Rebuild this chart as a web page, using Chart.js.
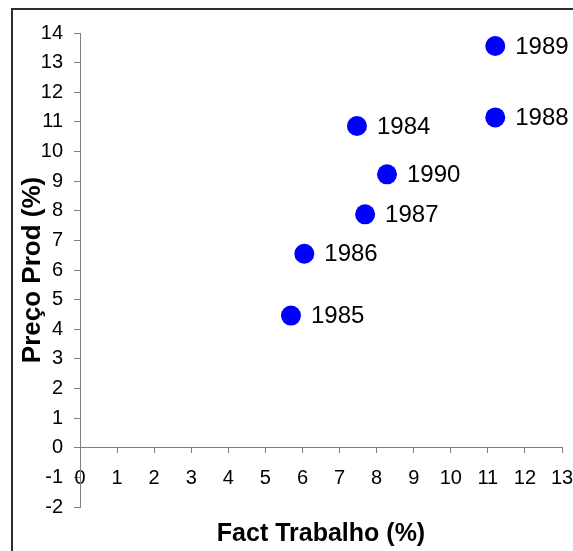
<!DOCTYPE html>
<html>
<head>
<meta charset="utf-8">
<script src="https://cdn.jsdelivr.net/npm/chart.js@4"></script>
<style>
  html, body { margin: 0; padding: 0; background: #fff; overflow: hidden; }
  #wrap { position: relative; width: 573px; height: 551px; }
  #frame { position: absolute; left: 11px; top: 8px; width: 700px; height: 700px;
           border-left: 2px solid #2e2e2e; border-top: 2px solid #2e2e2e; box-sizing: border-box; }
  canvas { position: absolute; left: 0; top: 0; }
</style>
</head>
<body>
<div id="wrap">
  <div id="frame"></div>
  <canvas id="scatterChart" width="573" height="551"></canvas>
</div>
<script>
// anos e valores
const years = ['1984', '1985', '1986', '1987', '1988', '1989', '1990'];
const factTrabalho = [7.47, 5.69, 6.05, 7.69, 11.2, 11.2, 8.28];
const precoProd = [10.86, 4.46, 6.55, 7.88, 11.15, 13.56, 9.23];

const xTitle = 'Fact Trabalho (%)';
const yTitle = 'Preço Prod (%)';

const points = years.map((y, i) => ({ x: factTrabalho[i], y: precoProd[i] }));

// labels beside each point
const yearLabels = {
  id: 'yearLabels',
  afterDatasetsDraw(chart) {
    const ctx = chart.ctx;
    const meta = chart.getDatasetMeta(0);
    ctx.save();
    ctx.font = '24px "Liberation Sans", Arial, sans-serif';
    ctx.fillStyle = '#000';
    ctx.textAlign = 'left';
    ctx.textBaseline = 'middle';
    meta.data.forEach((pt, i) => {
      ctx.fillText(years[i], pt.x + 20, pt.y + 1);
    });
    ctx.restore();
  }
};

const axisColor = '#7f7f7f';
const ctx = document.getElementById('scatterChart').getContext('2d');
new Chart(ctx, {
  type: 'scatter',
  data: {
    datasets: [{
      data: points,
      backgroundColor: '#0000ff',
      borderColor: '#0000ff',
      borderWidth: 0,
      pointRadius: 10,
      pointHoverRadius: 10
    }]
  },
  options: {
    responsive: false,
    animation: false,
    events: [],
    layout: { padding: { top: 33, left: 0, right: 11, bottom: 0 } },
    plugins: {
      legend: { display: false },
      tooltip: { enabled: false },
      title: {
        display: true,
        text: xTitle,
        position: 'bottom',
        fullSize: false,
        color: '#000',
        font: { family: '"Liberation Sans", Arial, sans-serif', size: 25, weight: 'bold', lineHeight: 1.2 },
        padding: { top: 12, bottom: 2 }
      }
    },
    scales: {
      x: {
        type: 'linear',
        position: { y: 0 },
        min: 0,
        max: 13,
        ticks: {
          stepSize: 1,
          padding: 14,
          color: '#000',
          font: { family: '"Liberation Sans", Arial, sans-serif', size: 20 }
        },
        grid: { drawOnChartArea: false, drawTicks: true, tickLength: 5, color: axisColor },
        border: { color: axisColor, width: 1 },
        afterFit(scale) { scale.paddingRight = 0; scale.paddingLeft = 0; }
      },
      y: {
        type: 'linear',
        min: -2,
        max: 14,
        ticks: {
          stepSize: 1,
          padding: 11,
          color: '#000',
          font: { family: '"Liberation Sans", Arial, sans-serif', size: 20 }
        },
        grid: { drawOnChartArea: false, drawTicks: true, tickLength: 6, color: axisColor },
        border: { color: axisColor, width: 1 },
        title: {
          display: true,
          text: yTitle,
          color: '#000',
          font: { family: '"Liberation Sans", Arial, sans-serif', size: 26, weight: 'bold', lineHeight: 1.2 },
          padding: { top: 17, bottom: 0 }
        },
        afterFit(scale) { scale.width = 80; }
      }
    }
  },
  plugins: [yearLabels]
});
</script>
</body>
</html>
